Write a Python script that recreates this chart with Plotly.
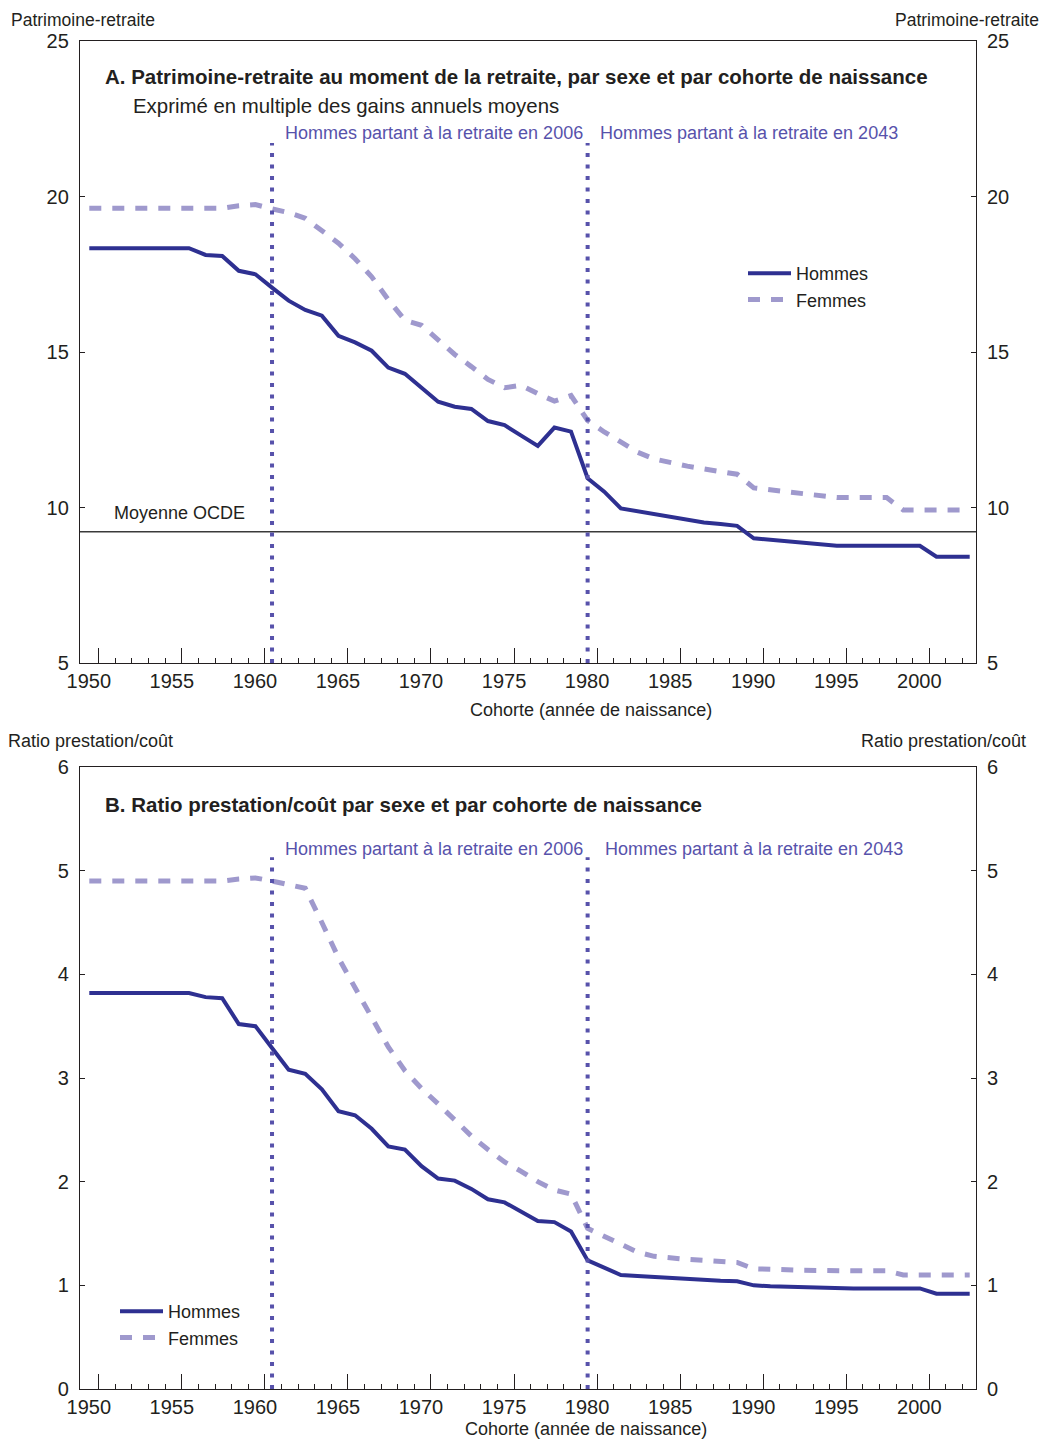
import plotly.graph_objects as go

# ---------------- data ----------------
cohorts = list(range(1950, 2004))
label_years = [1950, 1955, 1960, 1965, 1970, 1975, 1980, 1985, 1990, 1995, 2000]

men_wealth = [18.34] * 7 + [
    18.12, 18.09, 17.61, 17.50, 17.07, 16.65, 16.35, 16.17, 15.52, 15.31,
    15.04, 14.50, 14.30, 13.83, 13.40, 13.24, 13.17, 12.78, 12.65, 12.31,
    11.98, 12.57, 12.44, 10.94, 10.51, 9.97, 9.88, 9.79, 9.70, 9.62,
    9.52, 9.47, 9.41, 9.01, 8.96, 8.91, 8.86, 8.81, 8.77,
] + [8.77] * 5 + [8.42] * 3

women_wealth = [19.62] * 9 + [
    19.70, 19.74, 19.60, 19.48, 19.30, 18.92, 18.50, 18.00, 17.42, 16.68,
    16.02, 15.86, 15.38, 14.92, 14.53, 14.12, 13.85, 13.93, 13.66, 13.42,
    13.60, 12.80, 12.43, 12.11, 11.78, 11.56, 11.43, 11.33, 11.24, 11.17,
    11.07, 10.63, 10.56, 10.50, 10.42, 10.36, 10.32, 10.32, 10.32, 10.32,
] + [9.92] * 5

men_ratio = [3.82] * 7 + [
    3.78, 3.77, 3.52, 3.50, 3.29, 3.08, 3.04, 2.89, 2.68, 2.64,
    2.51, 2.34, 2.31, 2.15, 2.03, 2.01, 1.93, 1.83, 1.80, 1.71,
    1.62, 1.61, 1.52, 1.24, 1.17, 1.10, 1.09, 1.08, 1.07, 1.06,
    1.05, 1.045, 1.04, 1.00, 0.99, 0.985, 0.98, 0.975, 0.97,
] + [0.97] * 5 + [0.92] * 3

women_ratio = [4.90] * 9 + [
    4.92, 4.93, 4.90, 4.87, 4.83, 4.50, 4.16, 3.87, 3.58, 3.30,
    3.07, 2.90, 2.75, 2.60, 2.44, 2.31, 2.19, 2.10, 2.00, 1.92,
    1.88, 1.55, 1.47, 1.39, 1.32, 1.28, 1.26, 1.25, 1.24, 1.23,
    1.22, 1.16, 1.16, 1.15, 1.145, 1.14, 1.14, 1.14, 1.14, 1.14,
] + [1.10] * 5

retirement_cohorts = [1961, 1980]          # men retiring in 2006 / 2043
retirement_labels = ["Hommes partant à la retraite en 2006",
                     "Hommes partant à la retraite en 2043"]
oecd_average = 9.22

wealth_range = [5, 25]
ratio_range = [0, 6]
wealth_ticks = [5, 10, 15, 20, 25]
ratio_ticks = [0, 1, 2, 3, 4, 5, 6]

# ---------------- style ----------------
W, H = 1051, 1439
OFF = 8                      # page body margin around the plot div
FW, FH = W - OFF, H - OFF
FONT = "Liberation Sans, Arial, sans-serif"
MEN_COLOR = "#2e3091"
WOMEN_COLOR = "#9f99cd"
MARK_COLOR = "#5752ab"
TEXT_COLOR = "#231f20"
AXIS_COLOR = "#231f20"
TICK_SHIFT = 0.57
MARK_TOP = [0.836, 0.855]    # height of the dotted markers, as fraction of panel


def px(x):
    return (x - OFF) / FW


def py(y):
    return 1 - (y - OFF) / FH


XD = [px(80), px(976)]
YA = [py(663), py(41)]
YB = [py(1389), py(767)]
x_range = [1949.44, 2003.38]

fig = go.Figure()

panels = [("x", "y", "y3", men_wealth, women_wealth, "legend", wealth_range, MARK_TOP[0]),
          ("x2", "y2", "y4", men_ratio, women_ratio, "legend2", ratio_range, MARK_TOP[1])]
for xa, ya, yr, m, w, leg, rng, top in panels:
    fig.add_trace(go.Scatter(
        x=cohorts, y=m, mode="lines", name="Hommes",
        line=dict(color=MEN_COLOR, width=4),
        xaxis=xa, yaxis=ya, legend=leg))
    fig.add_trace(go.Scatter(
        x=cohorts, y=w, mode="lines", name="Femmes",
        line=dict(color=WOMEN_COLOR, width=5, dash="12px,11px"),
        xaxis=xa, yaxis=ya, legend=leg))
    top_val = rng[0] + top * (rng[1] - rng[0])
    for c in retirement_cohorts:
        fig.add_trace(go.Scatter(
            x=[c, c], y=[rng[0], top_val], mode="lines", showlegend=False,
            hoverinfo="skip",
            line=dict(color=MARK_COLOR, width=4, dash="4px,7.5px"),
            xaxis=xa, yaxis=yr))

tickvals = [y + TICK_SHIFT for y in label_years]
minorvals = [c + TICK_SHIFT for c in cohorts[:-1]]


def xaxis_def(anchor):
    return dict(
        domain=XD, anchor=anchor, range=x_range, automargin=False,
        tickmode="array", tickvals=tickvals, ticktext=[str(y) for y in label_years],
        ticks="inside", ticklen=15, tickwidth=1.3, tickcolor=AXIS_COLOR,
        minor=dict(tickmode="array", tickvals=minorvals, ticks="inside",
                   ticklen=5, tickwidth=1, tickcolor=AXIS_COLOR, showgrid=False),
        ticklabelshift=-10, ticklabelstandoff=0,
        showline=True, linecolor=AXIS_COLOR, linewidth=1.3, mirror=True,
        showgrid=False, zeroline=False,
        tickfont=dict(size=20, color=TEXT_COLOR, family=FONT),
    )


def yaxis_def(domain, rng, tv, anchor):
    return dict(
        domain=domain, anchor=anchor, range=rng, automargin=False,
        tickmode="array", tickvals=tv,
        ticks="inside", ticklen=5, tickwidth=1.3, tickcolor=AXIS_COLOR,
        showline=True, linecolor=AXIS_COLOR, linewidth=1.3, mirror="ticks",
        showgrid=False, zeroline=False, ticklabelstandoff=6,
        tickfont=dict(size=20, color=TEXT_COLOR, family=FONT),
    )


def yaxis_right(over, domain, rng, tv, anchor):
    return dict(
        domain=domain, anchor=anchor, range=rng, overlaying=over, side="right",
        automargin=False,
        tickmode="array", tickvals=tv, ticks="", showline=False,
        showgrid=False, zeroline=False, ticklabelstandoff=10,
        tickfont=dict(size=20, color=TEXT_COLOR, family=FONT),
    )


fig.update_layout(
    width=FW, height=FH, autosize=False,
    margin=dict(l=0, r=0, t=0, b=0, pad=0),
    paper_bgcolor="white", plot_bgcolor="white",
    font=dict(family=FONT, color=TEXT_COLOR, size=18),
    xaxis=xaxis_def("y"),
    yaxis=yaxis_def(YA, wealth_range, wealth_ticks, "x"),
    xaxis2=xaxis_def("y2"),
    yaxis2=yaxis_def(YB, ratio_range, ratio_ticks, "x2"),
    yaxis3=yaxis_right("y", YA, wealth_range, wealth_ticks, "x"),
    yaxis4=yaxis_right("y2", YB, ratio_range, ratio_ticks, "x2"),
    legend=dict(x=px(743), y=py(255), xanchor="left", yanchor="top",
                bgcolor="rgba(0,0,0,0)", font=dict(size=18, family=FONT),
                itemwidth=43, tracegroupgap=0),
    legend2=dict(x=px(115), y=py(1293), xanchor="left", yanchor="top",
                 bgcolor="rgba(0,0,0,0)", font=dict(size=18, family=FONT),
                 itemwidth=43, tracegroupgap=0),
    shapes=[dict(type="line", xref="x domain", x0=0, x1=1, yref="y",
                 y0=oecd_average, y1=oecd_average, layer="below",
                 line=dict(color="#3a3a3a", width=1.3))],
)


def note(text, x, y, anchor="left", size=18, color=TEXT_COLOR, bold=False):
    if bold:
        text = "<b>" + text + "</b>"
    fig.add_annotation(text=text, x=px(x), y=py(y), xref="paper", yref="paper",
                       xanchor=anchor, yanchor="middle", showarrow=False,
                       font=dict(size=size, color=color, family=FONT))


note("Patrimoine-retraite", 9, 20.5, size=17.5)
note("Patrimoine-retraite", 1041, 20.5, anchor="right", size=17.5)
note("Ratio prestation/coût", 6, 741, size=18)
note("Ratio prestation/coût", 1028, 741, anchor="right", size=18)

note("A. Patrimoine-retraite au moment de la retraite, par sexe et par cohorte de naissance",
     103, 77, size=20.5, bold=True)
note("Exprimé en multiple des gains annuels moyens", 131, 106, size=20.4)
note(retirement_labels[0], 283, 133, color=MARK_COLOR)
note(retirement_labels[1], 598, 133, color=MARK_COLOR)
note("Moyenne OCDE", 112, 513)
note("Cohorte (année de naissance)", 591, 710, anchor="center")

note("B. Ratio prestation/coût par sexe et par cohorte de naissance", 103, 804,
     size=20.5, bold=True)
note(retirement_labels[0], 283, 849, color=MARK_COLOR)
note(retirement_labels[1], 603, 849, color=MARK_COLOR)
note("Cohorte (année de naissance)", 586, 1429, anchor="center")

fig.write_html("out.html")
